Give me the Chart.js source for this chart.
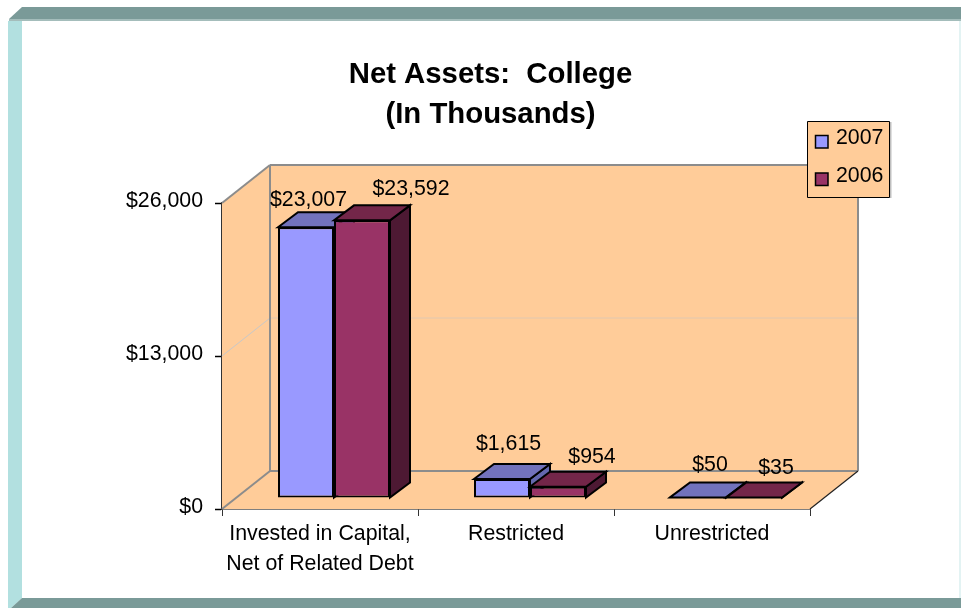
<!DOCTYPE html>
<html>
<head>
<meta charset="utf-8">
<title>Net Assets: College</title>
<script src="https://cdn.jsdelivr.net/npm/chart.js@4"></script>
<style>
  html, body { margin: 0; padding: 0; background: #fff; }
  #wrap { width: 961px; height: 608px; }
</style>
</head>
<body>
<div id="wrap"><canvas id="myChart" width="961" height="608"></canvas></div>
<script>
const categories = [["Invested in Capital,", "Net of Related Debt"], "Restricted", "Unrestricted"];
const values2007 = [23007, 1615, 50];
const values2006 = [23592, 954, 35];
const axisTicks = [0, 13000, 26000];

const FONT = '"Liberation Sans", Arial, sans-serif';
const WALL = "#FFCC99";

// slant of the box, and where the bars stand inside it
const depth = { x: 48, y: -38 };
const barShift = { x: 14, y: -11 };
const barDepth = { x: 20, y: -15 };

const faces = [
  { front: "#9999FF", top: "#7272BC", side: "#6468AE" },
  { front: "#993366", top: "#732649", side: "#4D1933" },
];

// value labels sit off the bar's top edge by hand
const labelNudge = [
  [[2.5, -27], [6.5, -35], [12, -32]],
  [[49, -31], [34, -30], [22, -29]],
];

const money = (v) => "$" + Number(v).toLocaleString("en-US");

function poly(ctx, pts, fill, stroke, lw) {
  ctx.beginPath();
  pts.forEach((p, i) => (i ? ctx.lineTo(p[0], p[1]) : ctx.moveTo(p[0], p[1])));
  ctx.closePath();
  if (fill) {
    ctx.fillStyle = fill;
    ctx.fill();
  }
  if (stroke) {
    ctx.strokeStyle = stroke;
    ctx.lineWidth = lw;
    ctx.lineJoin = "miter";
    ctx.stroke();
  }
}

function line(ctx, x1, y1, x2, y2, color, lw) {
  ctx.beginPath();
  ctx.moveTo(x1, y1);
  ctx.lineTo(x2, y2);
  ctx.strokeStyle = color;
  ctx.lineWidth = lw;
  ctx.stroke();
}

// slide frame round the page
const framePlugin = {
  id: "frame",
  afterLayout(chart) {
    // the title centres on the whole slide area, not on the axis box
    chart.titleBlock.left += 25.5;
    chart.titleBlock.right += 25.5;
  },
  beforeDraw(chart) {
    const { ctx, width, height } = chart;
    ctx.save();
    ctx.fillStyle = "#fff";
    ctx.fillRect(0, 0, width, height);
    ctx.fillStyle = "#E3F3F3";
    ctx.fillRect(959, 20, 2, height - 30);
    poly(ctx, [[8, 21], [22, 21], [22, 598], [11, 608], [8, 608]], "#B2E0E0");
    poly(ctx, [[22, 7], [width, 7], [width, 19], [9, 19]], "#7A9A98");
    ctx.fillStyle = "#A4BDBB";
    ctx.fillRect(9, 19, width - 9, 2);
    poly(ctx, [[22, 598], [width, 598], [width, height], [11, height]], "#7A9A98");
    ctx.restore();
  },
};

// back wall, side wall and floor, hung off the chart's own scales
const boxPlugin = {
  id: "box",
  beforeDatasetsDraw(chart) {
    const { ctx, chartArea: a, scales } = chart;
    const dx = depth.x;
    const dy = depth.y;
    ctx.save();
    poly(ctx, [[a.left + dx, a.top + dy], [a.right + dx, a.top + dy], [a.right + dx, a.bottom + dy], [a.left + dx, a.bottom + dy]], WALL);
    poly(ctx, [[a.left, a.top], [a.left + dx, a.top + dy], [a.left + dx, a.bottom + dy], [a.left, a.bottom]], WALL);
    poly(ctx, [[a.left, a.bottom], [a.left + dx, a.bottom + dy], [a.right + dx, a.bottom + dy], [a.right, a.bottom]], WALL);

    axisTicks.forEach((t) => {
      if (t === 0 || t === 26000) return;
      const y = scales.y.getPixelForValue(t);
      line(ctx, a.left, y, a.left + dx, y + dy, "#C8C8C8", 1);
      line(ctx, a.left + dx, y + dy, a.right + dx, y + dy, "#E0C8B0", 1);
    });

    const gray = "#8C8C8C";
    line(ctx, a.left + dx, a.top + dy, a.right + dx, a.top + dy, gray, 2);
    line(ctx, a.right + dx, a.top + dy, a.right + dx, a.bottom + dy, gray, 2);
    line(ctx, a.left + dx, a.top + dy, a.left + dx, a.bottom + dy, gray, 2);
    line(ctx, a.left + dx, a.bottom + dy, a.right + dx, a.bottom + dy, gray, 2);
    line(ctx, a.left, a.top, a.left + dx, a.top + dy, gray, 2);
    line(ctx, a.left, a.bottom, a.left + dx, a.bottom + dy, gray, 2);
    line(ctx, a.right, a.bottom, a.right + dx, a.bottom + dy, "#222", 1.2);
    ctx.restore();
  },
  // bars are painted together below, 2007 first so 2006 lands on top of it
  beforeDatasetDraw() {
    return false;
  },
  afterDatasetsDraw(chart) {
    const { ctx } = chart;
    ctx.save();
    ctx.translate(barShift.x, barShift.y);
    chart.data.datasets.forEach((ds, i) => {
      const face = faces[i];
      chart.getDatasetMeta(i).data.forEach((bar) => {
        const l = bar.x - bar.width / 2;
        const r = bar.x + bar.width / 2;
        const t = bar.y;
        const b = bar.base;
        const dx = barDepth.x;
        const dy = barDepth.y;
        poly(ctx, [[r, t], [r + dx, t + dy], [r + dx, b + dy], [r, b]], face.side, "#000", 2);
        poly(ctx, [[l, t], [l + dx, t + dy], [r + dx, t + dy], [r, t]], face.top, "#000", 2);
        bar.draw(ctx);
      });
    });
    ctx.restore();

    ctx.save();
    ctx.font = "21.33px " + FONT;
    ctx.textAlign = "center";
    ctx.textBaseline = "middle";
    ctx.fillStyle = "#000";
    chart.data.datasets.forEach((ds, i) => {
      chart.getDatasetMeta(i).data.forEach((bar, j) => {
        const n = labelNudge[i][j];
        ctx.fillText(money(ds.data[j]), bar.x + barShift.x + n[0], bar.y + barShift.y + n[1]);
      });
    });

    // legend box
    ctx.fillStyle = "rgba(0,0,0,0.25)";
    ctx.fillRect(890, 122, 1.5, 76);
    poly(ctx, [[807.5, 121.5], [889.5, 121.5], [889.5, 197.5], [807.5, 197.5]], WALL, "#000", 1);
    ctx.textAlign = "left";
    chart.data.datasets.forEach((ds, i) => {
      const y = 141.5 + i * 37.5;
      ctx.fillStyle = ds.backgroundColor;
      ctx.fillRect(815.5, y - 6, 12.5, 12.5);
      ctx.strokeStyle = "#000";
      ctx.lineWidth = 1.5;
      ctx.strokeRect(815.5, y - 6, 12.5, 12.5);
      ctx.fillStyle = "#000";
      ctx.fillText(ds.label, 836, y - 3);
    });
    ctx.restore();
  },
};

new Chart(document.getElementById("myChart").getContext("2d"), {
  type: "bar",
  plugins: [framePlugin, boxPlugin],
  data: {
    labels: categories,
    datasets: [
      { label: "2007", data: values2007, backgroundColor: faces[0].front, borderColor: "#000", borderWidth: 2, borderSkipped: false },
      { label: "2006", data: values2006, backgroundColor: faces[1].front, borderColor: "#000", borderWidth: 2, borderSkipped: false },
    ],
  },
  options: {
    responsive: false,
    animation: false,
    layout: { padding: { left: 120, right: 151, top: 0, bottom: 0 } },
    datasets: { bar: { categoryPercentage: 112 / 196, barPercentage: 1 } },
    plugins: {
      legend: { display: false },
      tooltip: { enabled: false },
      title: {
        display: true,
        text: ["Net Assets:  College", "(In Thousands)"],
        color: "#000",
        font: { family: FONT, size: 29.33, weight: "bold", lineHeight: 1.364 },
        padding: { top: 55, bottom: 68 },
      },
    },
    scales: {
      x: {
        afterFit(scale) { scale.height = 99; },
        grid: { drawOnChartArea: false, drawTicks: true, tickLength: 7, tickColor: "#333", tickWidth: 1 },
        border: { color: "#000", width: 1.5 },
        ticks: {
          color: "#000",
          font: { family: FONT, size: 21.33, lineHeight: 1.4 },
          padding: 3,
          maxRotation: 0,
          autoSkip: false,
        },
      },
      y: {
        min: 0,
        max: 26000,
        afterFit(scale) { scale.width = 102; },
        afterBuildTicks(scale) { scale.ticks = axisTicks.map((v) => ({ value: v })); },
        grid: { drawOnChartArea: false, drawTicks: true, tickLength: 7, tickColor: "#000", tickWidth: 1.5 },
        border: { color: "#333", width: 2 },
        ticks: {
          color: "#000",
          font: { family: FONT, size: 21.33 },
          padding: 12,
          labelOffset: -1.5,
          callback: (v) => money(v),
        },
      },
    },
  },
});
</script>
</body>
</html>
